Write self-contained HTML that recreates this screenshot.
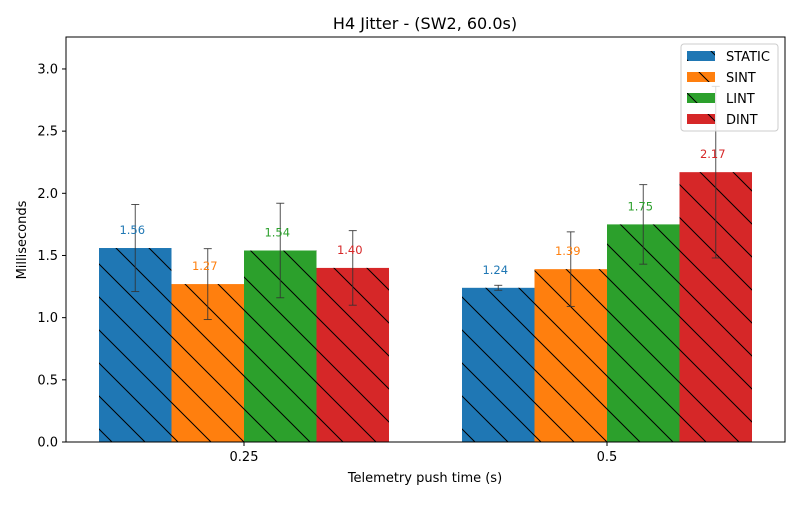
<!DOCTYPE html>
<html><head><meta charset="utf-8"><style>
body{margin:0;background:#fff;font-family:"Liberation Sans","DejaVu Sans",sans-serif}
svg text{font-family:"DejaVu Sans","Liberation Sans",sans-serif}
</style></head><body>
<svg id="c" width="800" height="500" xmlns="http://www.w3.org/2000/svg">
<defs>
<pattern id="h" patternUnits="userSpaceOnUse" width="33" height="33">
<path d="M-3,-3 L36,36 M-3,30 L3,36 M30,-3 L36,3" stroke="#000" stroke-width="1"/>
</pattern>
</defs>
<rect width="800" height="500" fill="#fff"/>
<text x="425" y="29" font-size="16" text-anchor="middle">H4 Jitter - (SW2, 60.0s)</text>
<g id="bars"></g>
<g id="axes"></g>
</svg>
<script>
const categories = ["0.25", "0.5"];
const seriesNames = ["STATIC", "SINT", "LINT", "DINT"];
const colors = ["#1f77b4", "#ff7f0e", "#2ca02c", "#d62728"];
const staticVals = [1.56, 1.24];
const sintVals = [1.27, 1.39];
const lintVals = [1.54, 1.75];
const dintVals = [1.40, 2.17];
const staticErr = [0.35, 0.02];
const sintErr = [0.285, 0.30];
const lintErr = [0.38, 0.32];
const dintErr = [0.30, 0.69];
const yTicks = [0, 0.5, 1.0, 1.5, 2.0, 2.5, 3.0];
const yTickLabels = ["0.0", "0.5", "1.0", "1.5", "2.0", "2.5", "3.0"];

const L = 66, R = 785, T = 37, B = 442, yMax = 3.257;
const y = v => B - v / yMax * (B - T);
const groupCenter = i => 244 + i * 363;
const barW = 72.5;
const NS = "http://www.w3.org/2000/svg";
function mk(tag, attrs, parent) { const e = document.createElementNS(NS, tag); for (const k in attrs) e.setAttribute(k, attrs[k]); parent.appendChild(e); return e; }
const bars = document.getElementById('bars'), axes = document.getElementById('axes');
const vals = [staticVals, sintVals, lintVals, dintVals];
const errs = [staticErr, sintErr, lintErr, dintErr];
for (let s = 0; s < 4; s++) {
  for (let i = 0; i < categories.length; i++) {
    const x0 = groupCenter(i) - 2 * barW + s * barW;
    const v = vals[s][i];
    const r = mk('rect', {x: x0, y: y(v), width: barW, height: B - y(v), fill: colors[s]}, bars);
    
    
    mk('rect', {x: x0, y: y(v), width: barW, height: B - y(v), fill: 'url(#h)'}, bars);
  }
}
for (let s = 0; s < 4; s++) {
  for (let i = 0; i < categories.length; i++) {
    const cx = groupCenter(i) - 2 * barW + s * barW + barW / 2;
    const v = vals[s][i], e = errs[s][i];
    const g = mk('g', {stroke: '#333', 'stroke-opacity': 0.85, 'stroke-width': 1}, bars);
    
    
    mk('line', {x1: cx, x2: cx, y1: y(v + e), y2: y(v - e)}, g);
    mk('line', {x1: cx - 4, x2: cx + 4, y1: y(v + e), y2: y(v + e)}, g);
    mk('line', {x1: cx - 4, x2: cx + 4, y1: y(v - e), y2: y(v - e)}, g);
    const t = mk('text', {x: cx - 3, y: y(v) - 14, 'font-size': 11.5, 'text-anchor': 'middle', fill: colors[s]}, bars);
    t.textContent = v.toFixed(2);
    
    
  }
}
mk('rect', {x: L, y: T, width: R - L, height: B - T, fill: 'none', stroke: '#000', 'stroke-width': 1}, axes);
yTicks.forEach((v, k) => {
  mk('line', {x1: L - 4, x2: L, y1: y(v), y2: y(v), stroke: '#000'}, axes);
  const t = mk('text', {x: L - 8, y: y(v) + 4.5, 'font-size': 13, 'text-anchor': 'end'}, axes);
  t.textContent = yTickLabels[k];
  
  
});
categories.forEach((c, i) => {
  const cx = groupCenter(i);
  mk('line', {x1: cx, x2: cx, y1: B, y2: B + 4, stroke: '#000'}, axes);
  const t = mk('text', {x: cx, y: B + 19, 'font-size': 13, 'text-anchor': 'middle'}, axes);
  t.textContent = c;
  
  
});
let t = mk('text', {x: 425, y: 482, 'font-size': 13, 'text-anchor': 'middle'}, axes);
t.textContent = 'Telemetry push time (s)';


t = mk('text', {x: 26, y: 240, 'font-size': 13, 'text-anchor': 'middle', transform: 'rotate(-90 26 240)'}, axes);
t.textContent = 'Milliseconds';


const lg = mk('g', {}, axes);


mk('rect', {x: 681, y: 44, width: 97, height: 87, rx: 3, fill: '#fff', 'fill-opacity': 0.8, stroke: '#ccc'}, lg);
seriesNames.forEach((n, s) => {
  const yy = 51 + s * 21;
  const e = mk('g', {}, lg);
  
  
  mk('rect', {x: 687, y: yy, width: 28, height: 10, fill: colors[s]}, e);
  mk('rect', {x: 687, y: yy, width: 28, height: 10, fill: 'url(#h)'}, e);
  const tt = mk('text', {x: 726, y: yy + 10, 'font-size': 13}, e);
  tt.textContent = n;
});
</script>
</body></html>
